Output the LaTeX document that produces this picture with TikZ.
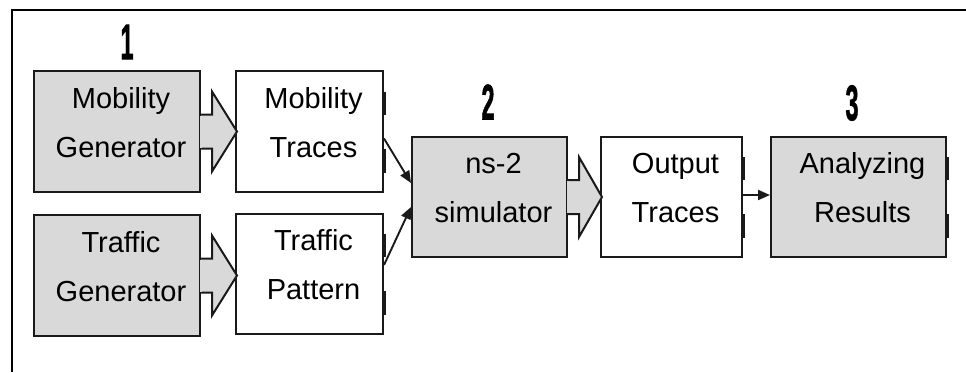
\documentclass[tikz,border=0pt]{standalone}
\usepackage{fontspec}
\setmainfont{Liberation Sans}
\newfontfamily\numfont[FakeBold=1.6]{Liberation Sans Bold}
\usetikzlibrary{calc,arrows.meta}
\definecolor{boxgray}{HTML}{D9D9D9}
\definecolor{edgeclr}{HTML}{1A1A1A}
\newcommand{\lowstrut}{\rule[-19pt]{0pt}{0pt}}
\begin{document}
\begin{tikzpicture}[x=1pt,y=-1pt,
  box/.style={draw=edgeclr,line width=2pt,minimum height=121pt,inner sep=0pt},
  gbox/.style={box,fill=boxgray},
  wbox/.style={box,fill=white},
  txt/.style={align=center,inner sep=0pt,font=\fontsize{29}{49}\selectfont},
  callout/.style={draw=edgeclr,fill=boxgray,line width=2pt,line join=miter},
  cover/.style={draw=boxgray,line width=2.6pt},
  conn/.style={draw=edgeclr,line width=1.9pt,-{Triangle[length=12pt,width=10pt]}},
  num/.style={font=\fontsize{50}{50}\selectfont\numfont,xscale=0.47,inner sep=0pt},
  edgemk/.style={draw=edgeclr,line width=3pt},
  frame/.style={draw=black,line width=2.2pt,line join=miter}
]
\useasboundingbox (0,0) rectangle (966,372);

% frame (top and left only)
\coordinate (fb) at (12,372);
\coordinate (ftl) at (12,10);
\coordinate (ftr) at (966,10);
\draw[frame] (fb) -- (ftl) -- (ftr);

% boxes
\node[gbox,minimum width=166pt] (mg) at (117,131.5) {};
\node[wbox,minimum width=147pt] (mt) at (309.5,131.5) {};
\node[gbox,minimum width=166pt] (tg) at (117,275.5) {};
\node[wbox,minimum width=147pt,minimum height=120pt] (tp) at (309.5,274) {};
\node[gbox,minimum width=155pt,minimum height=120pt] (ns) at (489.5,197) {};
\node[wbox,minimum width=141pt,minimum height=120pt] (ot) at (671.5,197) {};
\node[gbox,minimum width=175pt,minimum height=120pt] (ar) at (858.5,197) {};

% callout arrows
\foreach \b/\t in {mg/36,tg/36,ns/34}{
  \filldraw[callout] ($(\b.east)+(0,-17)$) -- ($(\b.east)+(11,-17)$) -- ($(\b.east)+(11,-40)$)
     -- ($(\b.east)+(\t,0)$) -- ($(\b.east)+(11,40)$) -- ($(\b.east)+(11,17)$) -- ($(\b.east)+(0,17)$);
  \draw[cover] ($(\b.east)+(0,-16)$) -- ($(\b.east)+(0,16)$);
}

% thick marks on right edges
\foreach \b in {mt,tp,ot,ar}{
  \draw[edgemk] ($(\b.east)+(0,-40)$) -- ($(\b.east)+(0,-17)$);
  \draw[edgemk] ($(\b.east)+(0,17)$) -- ($(\b.east)+(0,41)$);
}

% texts
\node[txt] (mgt) at ([xshift=4pt]mg.center) {Mobility\\Generator\lowstrut};
\node[txt] (mtt) at ([xshift=4pt]mt.center) {Mobility\\Traces\lowstrut};
\node[txt] (tgt) at ([xshift=4pt]tg.center) {Traffic\\Generator\lowstrut};
\node[txt] (tpt) at ([xshift=4pt]tp.center) {Traffic\\Pattern\lowstrut};
\node[txt] (nst) at ([xshift=4pt]ns.center) {ns-2\\simulator\lowstrut};
\node[txt] (ott) at ([xshift=4pt]ot.center) {Output\\Traces\lowstrut};
\node[txt] (art) at ([xshift=4pt]ar.center) {Analyzing\\Results\lowstrut};

% numbers
\node[num] (n1) at (127,42) {1};
\node[num] (n2) at (488,102) {2};
\node[num] (n3) at (852,103) {3};

% connectors
\draw[conn] ($(mt.east)+(0,7)$) -- ($(ns.west)+(0,-14)$);
\draw[conn] ($(tp.east)+(0,-9)$) -- ($(ns.west)+(0,10)$);
\draw[conn] ($(ot.east)+(0,-2)$) -- ($(ar.west)+(0,-2)$);
\end{tikzpicture}
\end{document}
